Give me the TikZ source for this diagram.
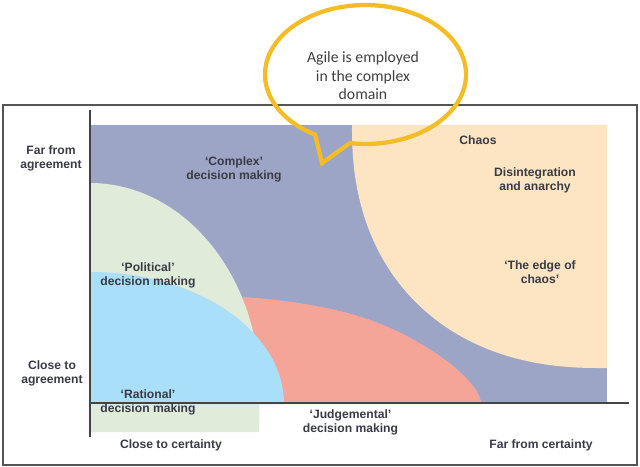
\documentclass[tikz,border=0pt]{standalone}
\usepackage{fontspec}
\setmainfont{Liberation Sans}
\newfontfamily\bubblefont{Carlito}
\definecolor{complexc}{HTML}{9CA5C6}
\definecolor{chaosc}{HTML}{FDE5C4}
\definecolor{politc}{HTML}{E0EBDA}
\definecolor{ratc}{HTML}{A9DFF8}
\definecolor{judgc}{HTML}{F5A598}
\definecolor{framec}{HTML}{555555}
\definecolor{axisc}{HTML}{444444}
\definecolor{labelc}{HTML}{3A3B46}
\definecolor{bubblec}{HTML}{F4BD25}
\definecolor{bubtext}{HTML}{404040}
\begin{document}
\begin{tikzpicture}[x=0.75pt,y=-0.75pt,
  lbl/.style={font=\bfseries\fontsize{9.1}{10.5}\selectfont, text=labelc, align=center, inner sep=0pt},
  axisline/.style={draw=axisc, line width=1.6pt},
  bubble/.style={draw=bubblec, line width=3.2pt, line join=miter}]
\useasboundingbox (0,0) rectangle (640,467);
% frame
\draw[framec, line width=1.2pt] (3,105) rectangle (637,465);
% complex (background)
\fill[complexc] (90,125) rectangle (607,404);
% chaos (superellipse corner)
\fill[chaosc] (352,125) -- (352,127)
  -- plot[domain=0.5:89.5, samples=90] ({600-248*(cos(\x))^(0.8889)}, {127+241*(sin(\x))^(0.8889)})
  -- (600,368) -- (607,368) -- (607,125) -- cycle;
% judgemental
\fill[judgc] (243,297)
  -- plot[smooth, tension=0.55] coordinates {(243,297) (272,299.5) (305,304) (340,311) (373,321) (407,336) (440,356) (462,374) (476,390) (482,404)}
  -- (240,404) -- cycle;
% political
\fill[politc] (90,183) arc[start angle=90, end angle=0, x radius=127.5pt, y radius=155.25pt]
  -- (259,432) -- (90,432) -- cycle;
% rational
\fill[ratc] (90,272) arc[start angle=90, end angle=0, x radius=145.5pt, y radius=99pt]
  -- (90,404) -- cycle;
% axes
\coordinate (vtop) at (90,110);
\coordinate (vbot) at (90,437);
\coordinate (hl) at (90,403);
\coordinate (hr) at (629,403);
\draw[axisline] (vtop) -- (vbot);
\draw[axisline] (hl) -- (hr);
% labels
\node[lbl] (farag) at (51,158.5) {Far from\\agreement};
\node[lbl] (closeag) at (52,373.5) {Close to\\agreement};
\node[lbl] (complex) at (234,169.5) {‘Complex’\\decision making};
\node[lbl] (chaos) at (478,140) {Chaos};
\node[lbl] (disint) at (535,180) {Disintegration\\and anarchy};
\node[lbl] (edge) at (540,272.5) {‘The edge of\\chaos’};
\node[lbl] (polit) at (148,275) {‘Political’\\decision making};
\node[lbl] (ration) at (148,402) {‘Rational’\\decision making};
\node[lbl] (judge) at (350.5,422.5) {‘Judgemental’\\decision making};
\node[lbl] (closecert) at (171,445) {Close to certainty};
\node[lbl] (farcert) at (541,445) {Far from certainty};
% callout bubble
\coordinate (bc) at (365.5,74.5);
\coordinate (tip) at (322,163);
\draw[bubble] (bc) ++(261.1:75.4pt and 52.1pt) coordinate (br)
  arc[start angle=261.1, end angle=599.9, x radius=75.4pt, y radius=52.1pt] coordinate (bl)
  -- (tip) -- cycle;
\node[font=\bubblefont\fontsize{11.8}{13.9}\selectfont, text=bubtext, align=center, inner sep=0pt] (agile) at (363,76) {Agile is employed\\in the complex\\domain};
\end{tikzpicture}
\end{document}
